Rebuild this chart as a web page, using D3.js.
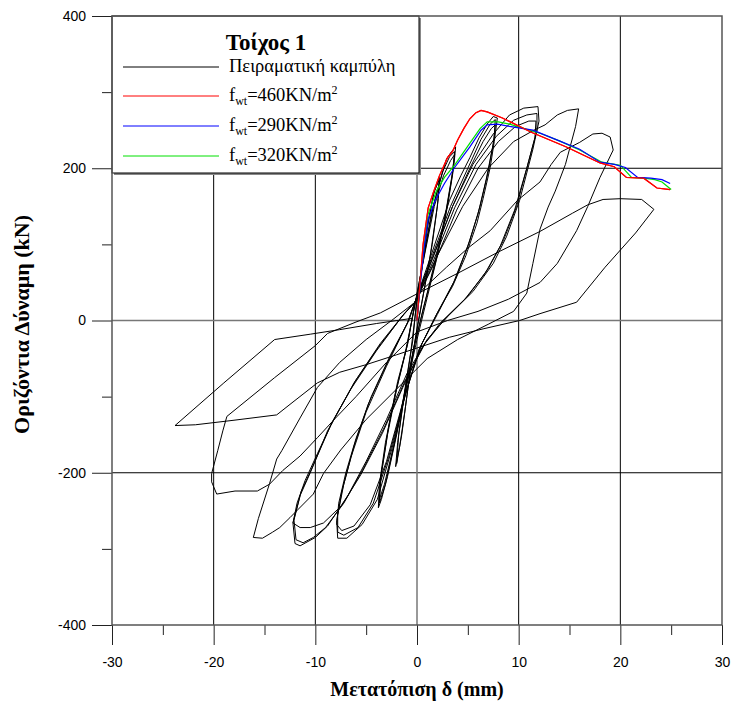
<!DOCTYPE html>
<html><head><meta charset="utf-8">
<script src="https://cdn.jsdelivr.net/npm/d3@7"></script>
<style>body{margin:0;background:#fff;} svg{display:block;}</style>
</head><body><svg id="chart" width="731" height="702"></svg>
<script>
// ---------- data ----------
const xTicks = [-30,-20,-10,0,10,20,30];
const xMinor = [-25,-15,-5,5,15,25];
const yTicks = [-400,-200,0,200,400];
const yMinor = [-300,-100,100,300];
const xGrid = [-20,-10,10,20];
const yGrid = [-200,200];

const legendTitle = "Τοίχος 1";
const seriesNames = ["Πειραματική καμπύλη","460","290","320"];
const seriesColors = ["#000000","#ff0000","#0000ff","#00e000"];

// experimental hysteresis (displacement mm, force kN) per amplitude group
const cycle2 = [[0,0],[0.4,60],[1.0,120],[1.6,165],[2.2,188],[2.1,160],[1.5,100],[0.7,40],[0,-10],[-0.6,-60],[-1.2,-120],[-1.7,-165],[-2.1,-192],[-1.9,-160],[-1.3,-100],[-0.6,-40],[-0.1,15],
 [0.5,75],[1.1,130],[1.7,170],[2.2,185],[2.0,150],[1.3,85],[0.5,25],[-0.3,-35],[-0.9,-90],[-1.5,-150],[-2.0,-188],[-1.8,-150],[-1.1,-85],[-0.4,-25],[-0.1,18]];
const cycle4 = [[0.6,80],[1.4,140],[2.2,180],[2.9,212],[3.4,222],[3.8,228],[3.6,200],[3.0,150],[2.1,90],[1.0,30],[0,-25],[-1.0,-85],[-2.0,-150],[-2.9,-205],[-3.5,-235],[-3.8,-246],[-3.7,-215],[-3.1,-160],[-2.2,-100],[-1.2,-45],[-0.2,20],
 [0.7,85],[1.6,150],[2.5,195],[3.2,215],[3.7,222],[3.5,195],[2.8,140],[1.9,85],[0.8,25],[-0.2,-30],[-1.2,-95],[-2.2,-160],[-3.1,-215],[-3.7,-240],[-3.6,-210],[-2.9,-150],[-2.0,-90],[-1.0,-35],[-0.2,22],
 [0.8,90],[1.7,150],[2.6,190],[3.3,210],[3.7,218],[3.4,185],[2.7,130],[1.8,75],[0.7,20],[-0.3,-35],[-1.3,-100],[-2.3,-165],[-3.2,-215],[-3.7,-235],[-3.5,-200],[-2.8,-140],[-1.9,-80],[-0.9,-30],[-0.2,24]];
const cycle8 = [[1.5,90],[3.2,158],[4.3,190],[5.2,214],[6.1,240],[6.9,258],[7.5,268],[7.9,266],[7.6,235],[7.2,201],[6.5,160],[5.9,128],[4.8,85],[3.5,45],[2.0,10],[0.5,-30],[-1.0,-90],[-2.5,-170],[-3.9,-235],[-5.4,-268],[-6.9,-286],[-7.8,-286],[-7.9,-263],[-7.4,-225],[-6.5,-180],[-5.0,-120],[-3.0,-60],[-1.0,-5],[-0.2,24],
 [1.5,85],[3.3,150],[5.0,200],[6.3,238],[7.2,258],[7.7,264],[7.6,240],[7.0,195],[6.2,150],[5.2,105],[3.8,55],[2.0,8],[0.3,-35],[-1.2,-100],[-2.8,-180],[-4.3,-240],[-5.8,-272],[-7.2,-282],[-7.8,-278],[-7.8,-255],[-7.2,-215],[-6.2,-165],[-4.8,-110],[-2.8,-52],[-0.9,-2],[-0.2,24],
 [1.6,85],[3.5,150],[5.2,200],[6.5,235],[7.3,252],[7.7,257],[7.5,232],[6.8,185],[6.0,140],[5.0,98],[3.6,50],[1.8,5],[0.2,-38],[-1.4,-108],[-3.0,-185],[-4.6,-242],[-6.2,-270],[-7.4,-276],[-7.9,-268],[-7.7,-240],[-7.0,-200],[-6.0,-155],[-4.5,-100],[-2.6,-45],[-0.8,0],[-0.2,24]];
const cycle12 = [[1.5,80],[3.5,150],[5.5,205],[7.5,245],[9.1,270],[10.5,279],[11.9,281],[12.0,262],[11.4,225],[10.1,158],[8.8,110],[7.5,75],[5.5,38],[3.0,5],[1.0,-25],[-1.0,-70],[-3.0,-130],[-5.0,-185],[-6.8,-230],[-8.8,-270],[-10.0,-285],[-11.5,-296],[-12.0,-293],[-12.2,-266],[-11.5,-230],[-10.5,-200],[-8.8,-145],[-6.5,-90],[-4.0,-40],[-1.5,5],[-0.2,24],
 [1.6,78],[3.7,148],[5.8,205],[7.8,242],[9.5,263],[10.8,270],[11.8,272],[11.8,250],[11.0,210],[9.8,150],[8.5,105],[7.0,68],[5.0,32],[2.6,0],[0.8,-30],[-1.2,-80],[-3.2,-140],[-5.3,-195],[-7.2,-240],[-9.0,-272],[-10.2,-285],[-11.2,-292],[-11.9,-288],[-12.1,-262],[-11.4,-225],[-10.2,-190],[-8.5,-138],[-6.2,-82],[-3.8,-35],[-1.3,8],[-0.2,24],
 [1.7,75],[3.9,145],[6.0,200],[8.0,235],[9.7,255],[11.0,262],[11.7,262],[11.6,240],[10.8,200],[9.6,145],[8.2,98],[6.7,62],[4.7,28],[2.3,-3],[0.6,-33],[-1.4,-88],[-3.4,-148],[-5.5,-202],[-7.4,-243],[-9.2,-266],[-10.5,-272],[-11.5,-272],[-12.2,-266],[-11.8,-240],[-11.0,-210],[-9.8,-175],[-8.2,-130],[-6.0,-78],[-3.6,-30],[-1.2,10],[-0.2,24]];
const cycle16 = [[2.0,85],[4.5,150],[7.0,200],[9.5,235],[11.5,250],[12.6,257],[13.8,270],[14.8,276],[15.9,278],[15.6,255],[14.6,205],[13.6,170],[12.9,149],[12.1,120],[11.4,75],[10.8,36],[9.5,12],[7.0,-5],[4.0,-25],[1.0,-50],[-2.0,-90],[-5.0,-130],[-7.5,-170],[-9.2,-201],[-10.2,-228],[-12.5,-259],[-13.5,-272],[-14.2,-278],[-15.2,-286],[-16.1,-285],[-15.6,-260],[-14.5,-214],[-13.8,-182],[-13.3,-171],[-11.5,-128],[-9.8,-88],[-7.6,-55],[-5.0,-25],[-2.5,0],[-0.2,24]];
const cycle20 = [[0.5,40],[2.9,70],[5.0,95],[7.2,118],[9.9,158],[12.1,182],[13.2,205],[14.1,221],[16.0,234],[17.3,245],[18.2,246],[19.0,241],[19.3,224],[18.0,188],[16.8,150],[15.7,118],[13.8,75],[12.1,50],[9.0,28],[6.0,12],[3.0,0],[0,-15],[-3.0,-55],[-6.0,-100],[-8.0,-128],[-9.8,-154],[-11.5,-178],[-13.2,-197],[-14.5,-215],[-15.7,-224],[-17.9,-224],[-19.7,-228],[-20.2,-212],[-20.2,-201],[-19.6,-171],[-19.1,-145],[-18.7,-126],[-14.0,-75],[-10.0,-33],[-8.8,-17],[-6.0,-2],[-3.6,10]];
const cycle24 = [[0,35],[4.0,62],[8.0,90],[12.1,117],[15.3,141],[16.8,152],[18.3,159],[20.0,160],[22.1,159],[23.3,146],[21.5,115],[18.5,70],[15.7,24],[12.1,9],[10.1,0],[6.5,-11],[3.2,-22],[-2.0,-45],[-5.0,-58],[-7.6,-68],[-9.8,-82],[-12.0,-105],[-13.8,-124],[-18.0,-131],[-21.8,-137],[-23.8,-138],[-19.0,-82],[-14.0,-25],[-10.5,-18],[-7.6,-12],[-4.0,-4],[-0.4,3]];

// analytical envelopes
const red460 = [[0,0],[0.3,50],[0.6,100],[1.1,148],[1.6,168],[2.2,190],[2.7,205],[3.0,214],[3.5,222],[4.0,237],[4.6,252],[5.2,265],[5.8,273],[6.3,276],[6.9,274],[8.4,266],[11.3,247],[14.7,228],[18.0,207],[19.4,202],[20.6,188],[22.3,187],[23.6,174],[24.9,172]];
const blue290 = [[0,0],[0.3,45],[0.7,95],[1.1,133],[1.8,158],[2.7,180],[3.7,201],[5.2,228],[6.3,250],[6.9,257],[7.9,258],[9.1,255],[11.4,250],[14.0,236],[16.0,225],[18.0,208],[19.4,205],[20.5,201],[21.7,188],[23.0,187],[24.1,185],[24.9,180]];
const green320 = [[0,0],[0.3,47],[0.7,98],[1.1,140],[1.9,170],[2.7,188],[3.7,204],[5.2,233],[6.2,252],[6.9,261],[8.0,261],[9.1,258],[12.1,246],[14.0,236],[16.0,224],[18.2,208],[20.0,204],[21.1,188],[22.3,187],[23.4,185],[24.1,182],[25.0,172]];

const experimental = [].concat(cycle2, cycle4, cycle8, cycle12, cycle16, cycle20, cycle24);

// ---------- drawing ----------
const svg = d3.select('#chart');
const x = d3.scaleLinear().domain([-30,30]).range([112,722]);
const y = d3.scaleLinear().domain([-400,400]).range([625,16]);
const tickFont = '"Liberation Sans", Arial, sans-serif';
const serif = '"Liberation Serif", "Times New Roman", serif';

// grid
const g = svg.append('g');
g.selectAll('.gx').data(xGrid).join('line')
  .attr('x1', d => x(d)).attr('x2', d => x(d)).attr('y1', y(400)).attr('y2', y(-400))
  .attr('stroke', '#000').attr('stroke-width', 1);
g.selectAll('.gy').data(yGrid).join('line')
  .attr('y1', d => y(d)).attr('y2', d => y(d)).attr('x1', x(-30)).attr('x2', x(30))
  .attr('stroke', '#000').attr('stroke-width', 1);
g.append('line').attr('x1', x(0)).attr('x2', x(0)).attr('y1', y(400)).attr('y2', y(-400)).attr('stroke', '#777').attr('stroke-width', 1.5);
g.append('line').attr('y1', y(0)).attr('y2', y(0)).attr('x1', x(-30)).attr('x2', x(30)).attr('stroke', '#777').attr('stroke-width', 1.5);

// axes
function styleAxis(sel) {
  sel.select('.domain').remove();
  sel.selectAll('line').attr('stroke', '#222');
  sel.selectAll('text').attr('font-family', tickFont).attr('font-size', 14).attr('fill', '#000');
}
svg.append('g').attr('transform', `translate(${x(-30)},0)`)
  .call(d3.axisLeft(y).tickValues(yTicks).tickSize(20).tickPadding(6).tickFormat(d => String(d))).call(styleAxis);
svg.append('g').attr('transform', `translate(${x(-30)},0)`)
  .call(d3.axisLeft(y).tickValues(yMinor).tickSize(10).tickFormat('')).call(styleAxis);
svg.append('g').attr('transform', `translate(0,${y(-400)})`)
  .call(d3.axisBottom(x).tickValues(xTicks).tickSize(20).tickPadding(12).tickFormat(d => String(d))).call(styleAxis);
svg.append('g').attr('transform', `translate(0,${y(-400)})`)
  .call(d3.axisBottom(x).tickValues(xMinor).tickSize(10).tickFormat('')).call(styleAxis);

// legend box
const lgX = x(-30), lgY = y(400), lgW = 307, lgH = 157;
svg.append('rect').attr('x', lgX + 2).attr('y', lgY + 2).attr('width', lgW).attr('height', lgH).attr('fill', '#888');
svg.append('rect').attr('x', lgX).attr('y', lgY).attr('width', lgW).attr('height', lgH).attr('fill', '#fff').attr('stroke', '#000').attr('stroke-width', 1);

// curves
const line = d3.line().x(d => x(d[0])).y(d => y(d[1]));
svg.append('path').datum(experimental).attr('d', line).attr('fill', 'none').attr('stroke', '#000').attr('stroke-width', 1).attr('stroke-linejoin', 'round');
[[red460, seriesColors[1]], [green320, seriesColors[3]], [blue290, seriesColors[2]], [red460, seriesColors[1]]].forEach(([data, c]) => {
  svg.append('path').datum(data).attr('d', line).attr('fill', 'none').attr('stroke', c).attr('stroke-width', 1.2);
});

// frame
svg.append('rect').attr('x', x(-30)).attr('y', y(400)).attr('width', x(30) - x(-30)).attr('height', y(-400) - y(400))
  .attr('fill', 'none').attr('stroke', '#555').attr('stroke-width', 1.5);

// legend content
svg.append('text').attr('x', 266).attr('y', 50).attr('text-anchor', 'middle')
  .attr('font-family', serif).attr('font-weight', 'bold').attr('font-size', 23).text(legendTitle);
const rowsY = [67, 96, 126, 156];
seriesNames.forEach((name, i) => {
  svg.append('line').attr('x1', 123).attr('x2', 219).attr('y1', rowsY[i]).attr('y2', rowsY[i])
    .attr('stroke', seriesColors[i]).attr('stroke-width', 1);
  const t = svg.append('text').attr('x', 229).attr('y', rowsY[i] + 5)
    .attr('font-family', serif).attr('font-size', 18.5).attr('fill', '#000');
  if (i === 0) { t.text(name); }
  else {
    t.append('tspan').text('f');
    t.append('tspan').attr('font-size', 12).attr('dy', 4).text('wt');
    t.append('tspan').attr('dy', -4).text('=' + name + 'KN/m');
    t.append('tspan').attr('font-size', 12).attr('dy', -7).text('2');
  }
});

// axis titles
svg.append('text').attr('x', x(0)).attr('y', 696).attr('text-anchor', 'middle')
  .attr('font-family', serif).attr('font-weight', 'bold').attr('font-size', 20).text('Μετατόπιση δ (mm)');
svg.append('text').attr('transform', `translate(29,${y(0) + 4}) rotate(-90)`).attr('text-anchor', 'middle')
  .attr('font-family', serif).attr('font-weight', 'bold').attr('font-size', 22).text('Οριζόντια Δύναμη (kN)');
</script></body></html>
